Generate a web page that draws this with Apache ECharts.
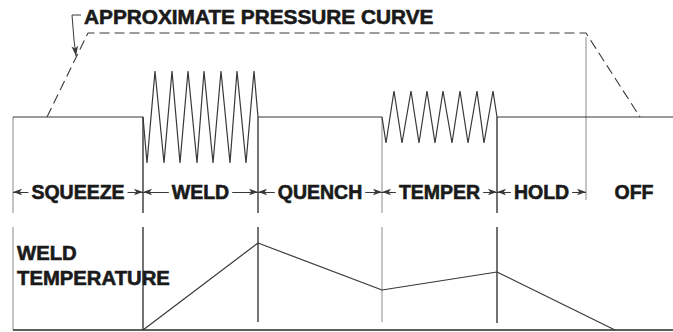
<!DOCTYPE html>
<html>
<head>
<meta charset="utf-8">
<script src="https://cdn.jsdelivr.net/npm/echarts@6/dist/echarts.min.js"></script>
<style>
  html, body { margin: 0; padding: 0; background: #fff; }
  #chart { width: 673px; height: 332px; }
</style>
</head>
<body>
<div id="chart"></div>
<script>
// Resistance spot-weld cycle: current, electrode pressure and weld temperature over time.
// Time runs along x; level runs up y (0 = temperature baseline).

// Phase boundaries (time) and names
const phaseEdges = [13, 143, 258, 382, 497, 586, 682];
const phaseNames = ['SQUEEZE', 'WELD', 'QUENCH', 'TEMPER', 'HOLD', 'OFF'];

// Welding current: idle level plus the two pulse trains
const currentIdle = 213;
const weldPeakTimes = [155, 172, 188, 204, 221, 237, 254];
const weldTroughTimes = [147, 164, 180, 197, 213, 230, 246];
const weldPeak = 259, weldTrough = 167;
const temperPeakTimes = [394, 411, 427, 443, 460, 477, 493];
const temperTroughTimes = [386, 402, 419, 435, 452, 468, 484];
const temperPeak = 239, temperTrough = 187;

// Approximate electrode pressure curve
const pressureTimes = [47, 88, 586, 640];
const pressureLevels = [213, 297, 297, 213];

// Weld temperature
const tempTimes = [143, 258, 382, 497, 615];
const tempLevels = [0, 87, 40, 58, 0];

// Row level of the phase captions
const captionLevel = 138;

// Build the current trace from the idle level and pulse trains
function pulseTrain(troughs, peaks, lo, hi) {
  const pts = [];
  for (let i = 0; i < troughs.length; i++) {
    pts.push([troughs[i], lo]);
    pts.push([peaks[i], hi]);
  }
  return pts;
}
const currentTrace = [
  [phaseEdges[0], currentIdle], [phaseEdges[1], currentIdle],
  ...pulseTrain(weldTroughTimes, weldPeakTimes, weldTrough, weldPeak),
  [phaseEdges[2], currentIdle], [phaseEdges[3], currentIdle],
  ...pulseTrain(temperTroughTimes, temperPeakTimes, temperTrough, temperPeak),
  [phaseEdges[4], currentIdle], [673, currentIdle]
];

const ink = '#1a1a1a';
const dark = '#383838';
const light = '#8a8a8a';
const fontName = '"Liberation Sans", Arial, Helvetica, sans-serif';

// Vertical phase dividers: [time, from, to, colour]
const upperDividers = [
  [phaseEdges[0], currentIdle, 117, light],
  [phaseEdges[1], currentIdle, 117, dark],
  [phaseEdges[2], currentIdle, 117, dark],
  [phaseEdges[3], currentIdle, 117, light],
  [phaseEdges[4], currentIdle, 117, dark],
  [phaseEdges[5], 293, 130, light]
];
const lowerDividers = [
  [phaseEdges[0], 103, 0, light],
  [phaseEdges[1], 103, 0, dark],
  [phaseEdges[2], 103, 8, dark],
  [phaseEdges[3], 103, 8, light],
  [phaseEdges[4], 103, 7, dark]
];

const series = [];

function segment(pts, color, width, extra) {
  series.push(Object.assign({
    type: 'line', data: pts, symbol: 'none', silent: true,
    animation: false,
    lineStyle: { color: color, width: width }
  }, extra || {}));
}

[...upperDividers, ...lowerDividers].forEach(d => {
  segment([[d[0], d[1]], [d[0], d[2]]], d[3], d[3] === dark ? 1.4 : 1);
});

// Current trace
segment(currentTrace, dark, 1.2);

// Pressure curve (dashed)
segment(pressureTimes.map((t, i) => [t, pressureLevels[i]]), dark, 1.1,
  { lineStyle: { color: dark, width: 1.1, type: [10, 5] } });

// Temperature baseline and trace
segment([[phaseEdges[0], 0], [673, 0]], '#2a2a2a', 1.6);
segment(tempTimes.map((t, i) => [t, tempLevels[i]]), dark, 1.2);

// Leader from the pressure caption to its curve
segment([[81, 315], [72, 315], [74, 290]], dark, 1, {
  markLine: {
    silent: true, animation: false,
    symbol: ['none', 'arrow'], symbolSize: [5, 10],
    lineStyle: { color: dark, width: 1, type: 'solid' },
    itemStyle: { color: dark },
    label: { show: false },
    data: [[{ coord: [74, 290] }, { coord: [76, 274] }]]
  }
});

// Phase dimension lines with arrowheads at the dividers
const dims = phaseNames.map((n, i) => {
  const last = i === phaseNames.length - 1;
  return [
    { coord: [phaseEdges[i], captionLevel], symbol: 'arrow', symbolSize: [5, 9] },
    { coord: [phaseEdges[i + 1], captionLevel], symbol: last ? 'none' : 'arrow', symbolSize: [5, 9] }
  ];
});
series.push({
  type: 'line', data: [], symbol: 'none', silent: true, animation: false,
  markLine: {
    silent: true, animation: false,
    lineStyle: { color: dark, width: 1, type: 'solid' },
    itemStyle: { color: dark },
    label: { show: false },
    data: dims
  }
});

// Heavy lettering: bold face with a thin outline in the same ink
const heavy = { fontFamily: fontName, fontWeight: 'bold', color: ink,
  textBorderColor: ink, textBorderWidth: 0.6 };

const chart = echarts.init(document.getElementById('chart'), null, { renderer: 'svg' });
chart.setOption({
  backgroundColor: '#fff',
  animation: false,
  grid: { left: 0, right: 0, top: 0, bottom: 0 },
  xAxis: { type: 'value', min: 0, max: 673, show: false },
  yAxis: { type: 'value', min: -2, max: 330, show: false },
  title: [
    {
      text: 'APPROXIMATE PRESSURE CURVE', left: 84, top: 6, padding: 0,
      textStyle: Object.assign({ fontSize: 20.8 }, heavy)
    },
    {
      text: 'WELD\nTEMPERATURE', left: 17, top: 240, padding: 0,
      textStyle: Object.assign({ fontSize: 20.3, lineHeight: 25 }, heavy)
    }
  ],
  series: series
});

// Phase captions, centred on each phase and masking the dimension line behind them
chart.setOption({
  graphic: phaseNames.map((n, i) => {
    const p = chart.convertToPixel({ gridIndex: 0 },
      [(phaseEdges[i] + phaseEdges[i + 1]) / 2, captionLevel]);
    return {
      type: 'text', x: p[0], y: p[1], z: 100, silent: true,
      style: {
        text: n, align: 'center', verticalAlign: 'middle',
        fontFamily: fontName, fontWeight: 'bold', fontSize: 19.5, fill: ink,
        stroke: ink, lineWidth: 0.6,
        backgroundColor: '#fff', padding: [0, 3]
      }
    };
  })
});
</script>
</body>
</html>
